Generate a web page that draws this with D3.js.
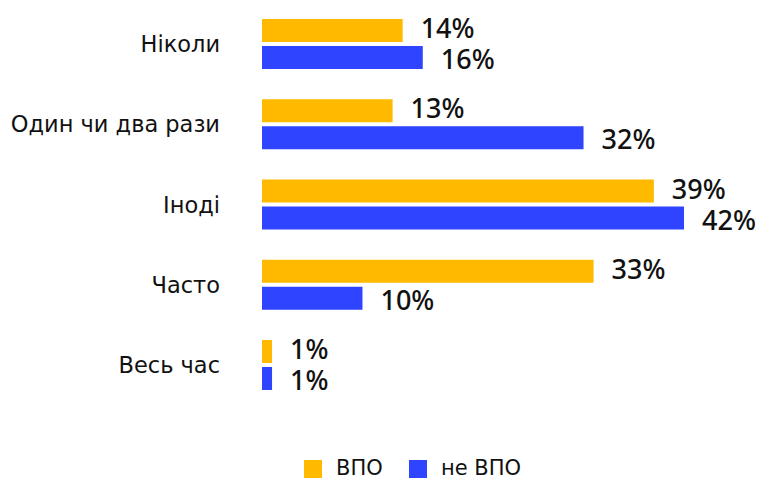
<!DOCTYPE html>
<html><head><meta charset="utf-8">
<script src="https://cdn.jsdelivr.net/npm/d3@7"></script>
<style>body{margin:0;background:#fff}</style>
</head><body>
<svg id="c" width="761" height="480"></svg>
<script>
const categories = ["Ніколи","Один чи два рази","Іноді","Часто","Весь час"];
const seriesNames = ["ВПО","не ВПО"];
const vpo = [14,13,39,33,1];
const nonVpo = [16,32,42,10,1];
const colors = ["#FFBA00","#2E44FF"];

const svg = d3.select("#c");
const x = d3.scaleLinear().domain([0,42]).range([262,684]);
const y = d3.scaleBand().domain(categories).range([19,390]).paddingInner(0.377).paddingOuter(0);
const sub = d3.scaleBand().domain(seriesNames).range([0,y.bandwidth()]).paddingInner(0.148);

const data = categories.map((c,i)=>({c, vals:[vpo[i],nonVpo[i]]}));
const g = svg.append("g");
data.forEach(d=>{
  d.vals.forEach((v,j)=>{
    const s = seriesNames[j];
    g.append("rect").attr("x",x(0)).attr("y",y(d.c)+sub(s))
      .attr("width",x(v)-x(0)).attr("height",sub.bandwidth()).attr("fill",colors[j]);
    g.append("text").attr("x",x(v)+18).attr("y",y(d.c)+sub(s)+sub.bandwidth()/2 + (j===0?-2:2))
      .attr("dy","0.36em").attr("font-family","Noto Sans").attr("font-weight",500)
      .attr("font-size",27).attr("fill","#111").text(v+"%");
  });
  g.append("text").attr("x",220).attr("y",y(d.c)+y.bandwidth()/2).attr("dy","0.36em")
    .attr("text-anchor","end").attr("font-family","DejaVu Sans").attr("font-size",22.5)
    .attr("fill","#111").text(d.c);
});

const leg = svg.append("g");
const legX = [304,409];
seriesNames.forEach((s,j)=>{
  leg.append("rect").attr("x",legX[j]).attr("y",460).attr("width",18).attr("height",18).attr("fill",colors[j]);
  leg.append("text").attr("x",legX[j]+32).attr("y",475)
    .attr("font-family","DejaVu Sans").attr("font-size",21).attr("fill","#111").text(s);
});
</script>
</body></html>
